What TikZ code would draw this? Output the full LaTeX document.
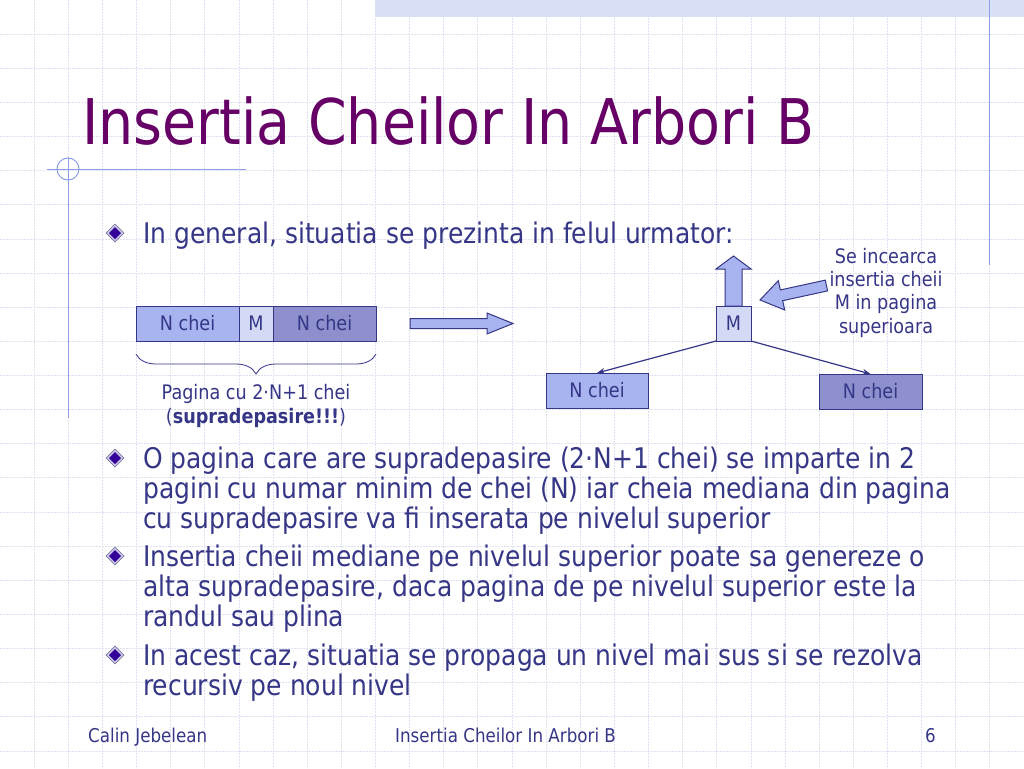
\documentclass[tikz,border=0pt]{standalone}
\usepackage{fontspec}
\setmainfont{DejaVu Sans}[FakeStretch=0.88]
\usepackage{xcolor}
\definecolor{edge-title}{HTML}{660066}
\definecolor{edge-text}{HTML}{363687}
\definecolor{edge-grid}{HTML}{DFE1F2}
\definecolor{edge-band}{HTML}{D9E1F6}
\definecolor{edge-line}{HTML}{8EA0E4}
\definecolor{edge-rim}{HTML}{C9C6E6}
\definecolor{edge-rimline}{HTML}{6E6A99}
\definecolor{edge-bullet}{HTML}{330099}
\definecolor{key-light}{HTML}{A8B4F0}
\definecolor{key-mid}{HTML}{D3DAF5}
\definecolor{key-dark}{HTML}{8D90CC}
\usepackage{tikz}
\usetikzlibrary{positioning,arrows.meta,decorations.pathreplacing}

\tikzset{
  gridline/.style={draw=edge-grid, line width=0.8pt, dash pattern=on 2pt off 1pt},
  framemark/.style={draw=edge-line, line width=1pt},
  titletext/.style={anchor=base west, inner sep=0, text=edge-title, font=\fontsize{63}{70}\selectfont},
  bodytext/.style={anchor=base west, inner sep=0, align=left, text=edge-text, font=\fontsize{28.4}{30}\selectfont},
  smalltext/.style={inner sep=0, text=edge-text, font=\fontsize{20}{23.3}\selectfont},
  foottext/.style={inner sep=0, text=edge-text, font=\fontsize{19}{22}\selectfont},
  keybox/.style={draw=edge-text, line width=1pt, minimum height=35pt, inner sep=0, outer sep=0, text=edge-text, font=\fontsize{20}{24}\selectfont},
  blockarrow/.style={fill=key-light, draw=edge-text, line width=1pt},
  pagebrace/.style={draw=edge-text, line width=0.8pt, decorate, decoration={brace, amplitude=20pt}},
  link/.style={draw=edge-text, line width=1.2pt, -{Stealth[length=8pt,width=6pt]}},
}

\begin{document}
\begin{tikzpicture}[x=1pt,y=-1pt]

    % Background
    \fill[white] (0,0) rectangle (1024,768);
    \useasboundingbox (0,0) rectangle (1024,768);

    % Grid
    \foreach \k in {1,...,29}
      \draw[gridline] (\k*34.133,0) -- (\k*34.133,768);
    \foreach \k in {1,...,22}
      \draw[gridline] (0,\k*34.133) -- (1024,\k*34.133);

    % Frame marks
    \fill[edge-band] (375,0) rectangle (1024,17);
    \draw[framemark] (989,0) -- (989,265);
    \draw[framemark] (47,169) -- (246,169);
    \draw[framemark] (68,158) -- (68,418);
    \draw[framemark] (68,169) circle (11);

    % Title
    \node[titletext] (title) at (82,144) {Insertia Cheilor In Arbori B};

    % Bullets
    \foreach \by in {233,458,556,655}{
      \filldraw[fill=edge-rim, draw=edge-rimline, line width=0.6pt] (115,\by-9) -- (124,\by) -- (115,\by+9) -- (106,\by) -- cycle;
      \fill[edge-bullet] (115,\by-6) -- (121,\by) -- (115,\by+6) -- (109,\by) -- cycle;
    }

    % Text (multi-line nodes sit on their last baseline)
    \node[bodytext] (intro) at (143,243) {In general, situatia se prezinta in felul urmator:};
    \node[bodytext] (split) at (143,528) {O pagina care are supradepasire (2·N+1 chei) se imparte in 2\\pagini cu numar minim de chei (N) iar cheia mediana din pagina\\cu supradepasire va fi inserata pe nivelul superior};
    \node[bodytext] (again) at (143,626) {Insertia cheii mediane pe nivelul superior poate sa genereze o\\alta supradepasire, daca pagina de pe nivelul superior este la\\randul sau plina};
    \node[bodytext] (recur) at (143,695) {In acest caz, situatia se propaga un nivel mai sus si se rezolva\\recursiv pe noul nivel};

    % Full page
    \node[keybox, fill=key-light, minimum width=103pt] (lkeys) at (187.5,323.5) {N chei};
    \node[keybox, fill=key-mid, minimum width=34pt, right=0pt of lkeys] (mkey) {M};
    \node[keybox, fill=key-dark, minimum width=103pt, right=0pt of mkey] (rkeys) {N chei};
    \draw[pagebrace] ([yshift=-13pt]rkeys.south east) -- ([yshift=-13pt]lkeys.south west);
    \node[smalltext, align=center, anchor=base] (pagecap) at (256,423) {Pagina cu 2·N+1 chei\\(\textbf{supradepasire!!!})};

    % Split
    \filldraw[blockarrow] (410,318.5) -- (487,318.5) -- (487,313) -- (513,323.5) -- (487,334) -- (487,328.5) -- (410,328.5) -- cycle;

    % Upper page
    \node[keybox, fill=key-mid, minimum width=35pt] (upm) at (733.5,323.5) {M};
    \filldraw[blockarrow, shift={(upm.north)}] (-8.5,0) -- (-8.5,-37) -- (-17.5,-37) -- (0,-50) -- (17.5,-37) -- (8.5,-37) -- (8.5,0) -- cycle;
    \coordinate (hinttip) at ([shift={(9,-6)}]upm.north east);
    \filldraw[blockarrow, shift={(hinttip)}, rotate=192.3] (0,0) -- (-22,-15) -- (-22,-5.5) -- (-68,-5.5) -- (-68,5.5) -- (-22,5.5) -- (-22,15) -- cycle;
    \node[smalltext, align=center, anchor=base] (hint) at (886,333) {Se incearca\\insertia cheii\\M in pagina\\superioara};

    % Lower pages
    \node[keybox, fill=key-light, minimum width=102pt] (lchild) at (597,390.5) {N chei};
    \node[keybox, fill=key-dark, minimum width=103pt] (rchild) at (870.5,391.5) {N chei};
    \draw[link] (upm.south west) -- (lchild.north);
    \draw[link] (upm.south east) -- (rchild.north);

    % Footer
    \node[foottext, anchor=base west] (author) at (88,742) {Calin Jebelean};
    \node[foottext, anchor=base west] (footname) at (395,742) {Insertia Cheilor In Arbori B};
    \node[foottext, anchor=base east] (pageno) at (936,742) {6};

\end{tikzpicture}
\end{document}
